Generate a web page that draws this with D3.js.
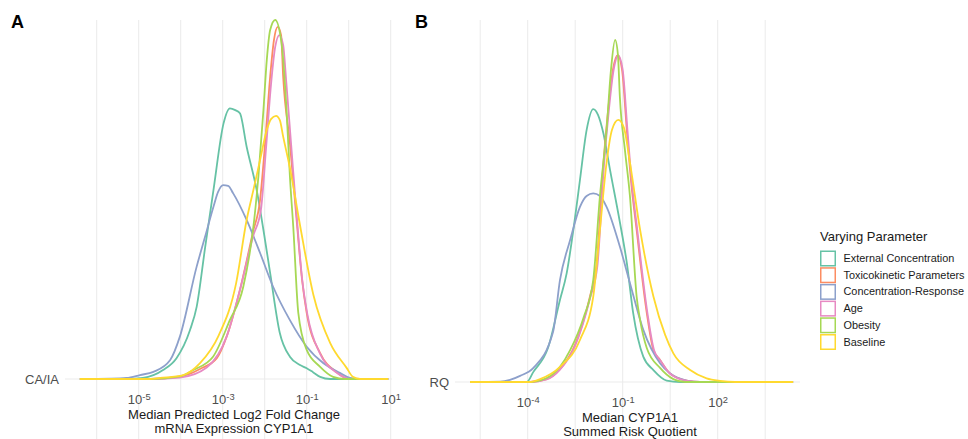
<!DOCTYPE html>
<html>
<head>
<meta charset="utf-8">
<script src="https://cdn.jsdelivr.net/npm/d3@7"></script>
<style>
  body { margin: 0; background: #fff; }
  text { font-family: "Liberation Sans", Arial, sans-serif; }
</style>
</head>
<body>
<div id="chart"></div>
<script>
// series in legend order, values as [log10(x), density (rel. to tallest peak)]
const seriesNames = ['External Concentration', 'Toxicokinetic Parameters', 'Concentration-Response', 'Age', 'Obesity', 'Baseline'];
const seriesColors = ['#66C2A5', '#FC8D62', '#8DA0CB', '#E78AC3', '#A6D854', '#FFD92F'];

// panel A: median predicted log2 fold change
const extConcA = [[-6.4,0],[-5.29,0],[-4.9,0.003],[-4.42,0.025],[-4.1,0.058],[-3.78,0.136],[-3.62,0.201],[-3.42,0.365],[-3.22,0.526],[-2.98,0.712],[-2.83,0.754],[-2.7,0.749],[-2.59,0.74],[-2.43,0.647],[-2.19,0.526],[-2.03,0.415],[-1.87,0.295],[-1.64,0.128],[-1.4,0.062],[-1.16,0.039],[-1.0,0.03],[-0.85,0.019],[-0.68,0.006],[-0.44,0],[0.94,0]];
const toxKinA = [[-6.4,0],[-4.73,0],[-4.02,0.006],[-3.54,0.028],[-3.14,0.058],[-2.9,0.12],[-2.59,0.248],[-2.28,0.409],[-2.11,0.499],[-1.99,0.657],[-1.87,0.842],[-1.78,0.944],[-1.69,0.981],[-1.61,0.958],[-1.56,0.842],[-1.4,0.657],[-1.24,0.443],[-1.11,0.276],[-1.0,0.184],[-0.68,0.072],[-0.29,0.019],[0.03,0],[0.94,0]];
const concRespA = [[-6.4,0],[-5.68,0.001],[-5.29,0.003],[-4.97,0.011],[-4.65,0.02],[-4.25,0.053],[-4.02,0.118],[-3.62,0.313],[-3.42,0.396],[-3.22,0.48],[-3.11,0.521],[-2.99,0.54],[-2.87,0.538],[-2.75,0.517],[-2.43,0.443],[-2.11,0.351],[-1.8,0.257],[-1.4,0.164],[-1.0,0.09],[-0.6,0.044],[-0.21,0.017],[0.03,0.003],[0.27,0],[0.94,0]];
const ageA = [[-6.4,0],[-4.73,0],[-4.02,0.004],[-3.38,0.032],[-2.9,0.12],[-2.59,0.248],[-2.27,0.4],[-2.09,0.471],[-1.97,0.64],[-1.85,0.82],[-1.75,0.925],[-1.65,0.958],[-1.56,0.93],[-1.49,0.833],[-1.37,0.652],[-1.24,0.457],[-1.11,0.28],[-0.98,0.178],[-0.68,0.07],[-0.29,0.018],[0.03,0],[0.94,0]];
const obesityA = [[-6.4,0],[-4.73,0],[-4.02,0.007],[-3.7,0.025],[-3.23,0.062],[-2.83,0.164],[-2.51,0.257],[-2.25,0.443],[-2.15,0.564],[-2.03,0.749],[-1.95,0.889],[-1.87,0.972],[-1.75,1.0],[-1.6,0.936],[-1.48,0.749],[-1.4,0.564],[-1.32,0.424],[-1.2,0.184],[-1.0,0.081],[-0.68,0.034],[-0.37,0.006],[-0.09,0],[0.94,0]];
const baselineA = [[-6.4,0],[-4.73,0],[-4.49,0.003],[-3.94,0.011],[-3.54,0.044],[-3.1,0.12],[-2.68,0.267],[-2.43,0.443],[-2.27,0.526],[-2.11,0.61],[-1.95,0.694],[-1.85,0.724],[-1.73,0.733],[-1.64,0.721],[-1.56,0.675],[-1.4,0.588],[-1.16,0.429],[-0.84,0.234],[-0.44,0.1],[-0.05,0.031],[0.1,0.006],[0.27,0],[0.94,0]];

// panel B: median summed risk quotient
const extConcB = [[-5.82,0],[-4.03,0],[-3.82,0.028],[-3.36,0.094],[-2.98,0.227],[-2.77,0.3],[-2.55,0.425],[-2.35,0.558],[-2.14,0.696],[-1.93,0.754],[-1.78,0.738],[-1.61,0.687],[-1.4,0.586],[-1.09,0.442],[-0.87,0.329],[-0.67,0.191],[-0.35,0.07],[-0.03,0.033],[0.39,0.004],[0.81,0],[4.38,0]];
const toxKinB = [[-5.82,0],[-3.93,0],[-3.4,0.008],[-2.98,0.036],[-2.51,0.102],[-2.03,0.238],[-1.82,0.329],[-1.61,0.605],[-1.46,0.751],[-1.31,0.862],[-1.16,0.903],[-1.02,0.862],[-0.87,0.696],[-0.74,0.558],[-0.56,0.42],[-0.24,0.191],[-0.03,0.088],[0.18,0.061],[0.49,0.024],[1.02,0.004],[1.44,0],[4.38,0]];
const concRespB = [[-5.82,0],[-4.87,0.001],[-4.56,0.006],[-4.24,0.017],[-3.82,0.039],[-3.2,0.138],[-2.98,0.282],[-2.66,0.392],[-2.35,0.484],[-2.14,0.514],[-1.93,0.521],[-1.72,0.514],[-1.51,0.484],[-1.09,0.374],[-0.77,0.273],[-0.35,0.144],[0.18,0.052],[0.49,0.024],[1.02,0.004],[1.44,0],[4.38,0]];
const ageB = [[-5.82,0],[-3.93,0],[-3.4,0.007],[-2.98,0.034],[-2.51,0.098],[-2.03,0.232],[-1.8,0.32],[-1.59,0.6],[-1.44,0.748],[-1.29,0.86],[-1.14,0.902],[-1.0,0.862],[-0.85,0.696],[-0.72,0.558],[-0.54,0.42],[-0.22,0.191],[-0.01,0.088],[0.2,0.058],[0.51,0.022],[1.04,0.003],[1.46,0],[4.38,0]];
const obesityB = [[-5.82,0],[-3.93,0],[-3.4,0.011],[-2.98,0.042],[-2.66,0.088],[-2.24,0.177],[-1.93,0.282],[-1.72,0.512],[-1.51,0.696],[-1.37,0.862],[-1.24,0.945],[-1.15,0.903],[-1.09,0.788],[-0.93,0.641],[-0.77,0.512],[-0.56,0.236],[-0.45,0.171],[-0.24,0.094],[0.18,0.039],[0.6,0.008],[0.97,0],[4.38,0]];
const baselineB = [[-5.82,0],[-3.93,0],[-3.61,0.008],[-2.98,0.042],[-2.35,0.116],[-1.93,0.236],[-1.72,0.42],[-1.51,0.605],[-1.34,0.696],[-1.14,0.724],[-0.96,0.702],[-0.77,0.605],[-0.45,0.42],[-0.03,0.236],[0.34,0.13],[0.6,0.079],[1.13,0.033],[1.65,0.01],[2.07,0.003],[2.55,0],[4.38,0]];

const ticksA = [1e-5, 1e-3, 1e-1, 1e1];
const ticksB = [1e-4, 1e-1, 1e2];
const gridA = [1e-6, 1e-5, 1e-4, 1e-3, 1e-2, 1e-1, 1e0, 1e1];
const gridB = [-5.5, -4, -2.5, -1, 0.5, 2, 3.5].map(p => Math.pow(10, p));

const W = 968, H = 439;
const svg = d3.select('#chart').append('svg')
  .attr('width', W).attr('height', H);

const xA = d3.scaleLog().domain([1e-6, 1e1]).range([96.7, 390.7]);
const yA = d3.scaleLinear().domain([0, 1]).range([379, 20]);
const xB = d3.scaleLog().domain([1e-4, 1e2]).range([527.7, 717.7]);
const yB = d3.scaleLinear().domain([0, 1]).range([382, 20]);

const supFormat = sel => {
  sel.each(function(d) {
    const t = d3.select(this);
    t.text('10');
    t.append('tspan')
      .attr('dy', '-0.45em')
      .attr('font-size', '0.72em')
      .text(Math.round(Math.log10(d)));
  });
};

const drawPanel = (opts) => {
  const { x, y, series, ticks, grid, letter, letterX, yLabel, yLabelX, left, right, title } = opts;
  const g = svg.append('g');
  const base = y(0);

  // vertical grid
  g.selectAll('line.grid').data(grid).enter().append('line')
    .attr('x1', d => x(d)).attr('x2', d => x(d))
    .attr('y1', 20).attr('y2', H)
    .attr('stroke', '#EBEBEB').attr('stroke-width', 1);
  // baseline grid
  g.append('line')
    .attr('x1', left).attr('x2', right)
    .attr('y1', base).attr('y2', base)
    .attr('stroke', '#EBEBEB').attr('stroke-width', 1);

  const line = d3.line()
    .x(d => x(Math.pow(10, d[0])))
    .y(d => y(d[1]))
    .curve(d3.curveMonotoneX);

  g.selectAll('path.dens').data(series).enter().append('path')
    .attr('d', d => line(d))
    .attr('fill', 'none')
    .attr('stroke', (d, i) => seriesColors[i])
    .attr('stroke-width', 1.8);

  const ax = g.append('g')
    .attr('transform', `translate(0,${base + 13})`)
    .call(d3.axisBottom(x).tickValues(ticks).tickSize(0).tickPadding(3));
  ax.select('.domain').remove();
  ax.selectAll('text')
    .attr('font-size', 13)
    .attr('fill', '#4D4D4D')
    .call(supFormat);

  g.append('text')
    .attr('x', yLabelX).attr('y', base + 5)
    .attr('text-anchor', 'end')
    .attr('font-size', 13)
    .attr('fill', '#4D4D4D')
    .text(yLabel);

  const tt = g.append('text')
    .attr('text-anchor', 'middle')
    .attr('font-size', 13)
    .attr('fill', '#1a1a1a');
  title.lines.forEach((s, i) => {
    tt.append('tspan').attr('x', title.x).attr('y', title.y + i * 14).text(s);
  });

  svg.append('text')
    .attr('x', letterX).attr('y', 27.5)
    .attr('font-size', 18).attr('font-weight', 'bold')
    .attr('fill', '#000')
    .text(letter);
};

drawPanel({
  x: xA, y: yA,
  series: [extConcA, toxKinA, concRespA, ageA, obesityA, baselineA],
  ticks: ticksA, grid: gridA,
  letter: 'A', letterX: 11,
  yLabel: 'CA/IA', yLabelX: 59,
  left: 65, right: 392,
  title: { x: 234, y: 419, lines: ['Median Predicted Log2 Fold Change', 'mRNA Expression CYP1A1'] }
});

drawPanel({
  x: xB, y: yB,
  series: [extConcB, toxKinB, concRespB, ageB, obesityB, baselineB],
  ticks: ticksB, grid: gridB,
  letter: 'B', letterX: 415,
  yLabel: 'RQ', yLabelX: 449,
  left: 455, right: 800,
  title: { x: 630, y: 421.5, lines: ['Median CYP1A1', 'Summed Risk Quotient'] }
});

// legend
const legend = svg.append('g').attr('transform', 'translate(820,240.5)');
legend.append('text')
  .attr('x', 0).attr('y', 0)
  .attr('font-size', 13).attr('fill', '#1a1a1a')
  .text('Varying Parameter');
const items = legend.selectAll('g.item').data(seriesNames).enter().append('g')
  .attr('transform', (d, i) => `translate(0,${10 + i * 16.7})`);
items.append('rect')
  .attr('x', 0.75).attr('y', 0.75)
  .attr('width', 14.5).attr('height', 14.5)
  .attr('fill', '#fff')
  .attr('stroke', (d, i) => seriesColors[i])
  .attr('stroke-width', 1.5);
items.append('text')
  .attr('x', 23.5).attr('y', 11.5)
  .attr('font-size', 10.9).attr('fill', '#1a1a1a')
  .text(d => d);
</script>
</body>
</html>
